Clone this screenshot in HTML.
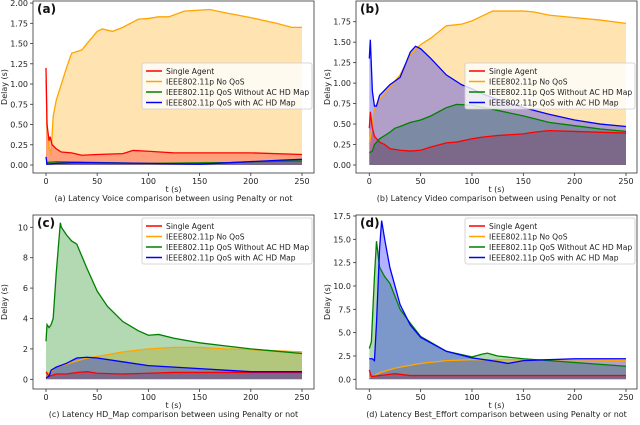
<!DOCTYPE html>
<html><head><meta charset="utf-8"><style>
body{margin:0;background:#fff;width:640px;height:420px;overflow:hidden}
svg{font-family:"DejaVu Sans","Liberation Sans",sans-serif}
</style></head><body>
<svg id="chart" width="640" height="420" xmlns="http://www.w3.org/2000/svg"></svg>
<script>
// Panel (a) voice
const aNoQosT=[0,1,3,5,7,10,15,20,25,30,35,40,50,55,65,75,90,100,110,120,135,160,175,200,225,240,250];
const aNoQosV=[1.05,0.5,0.2,0.15,0.6,0.8,1.0,1.2,1.38,1.4,1.42,1.5,1.65,1.68,1.65,1.7,1.8,1.81,1.83,1.83,1.9,1.92,1.88,1.82,1.75,1.7,1.7];
const aSingleT=[0,1,3,4,6,10,15,25,35,50,75,85,100,125,150,200,250];
const aSingleV=[1.2,0.5,0.3,0.35,0.25,0.2,0.16,0.15,0.12,0.13,0.14,0.18,0.17,0.15,0.15,0.15,0.13];
const aNoAcT=[0,10,50,100,180,200,240,250];
const aNoAcV=[0.03,0.04,0.03,0.02,0.03,0.04,0.05,0.05];
const aAcT=[0,1,10,30,100,150,230,250];
const aAcV=[0.1,0.01,0.02,0.03,0.02,0.01,0.06,0.07];
// Panel (b) video
const bNoQosT=[0,3,5,10,20,30,40,50,60,75,90,100,110,120,135,150,160,175,200,225,250];
const bNoQosV=[0.25,0.5,0.7,0.8,0.95,1.1,1.35,1.47,1.55,1.7,1.72,1.76,1.82,1.88,1.88,1.88,1.87,1.83,1.8,1.77,1.73];
const bSingleT=[0,1,3,5,10,15,20,30,40,50,60,75,85,100,110,125,150,160,175,200,250];
const bSingleV=[0.45,0.65,0.45,0.35,0.28,0.25,0.2,0.18,0.17,0.18,0.22,0.27,0.28,0.32,0.34,0.36,0.38,0.4,0.42,0.41,0.39];
const bNoAcT=[0,3,5,10,20,25,30,40,50,60,75,85,100,120,150,175,200,225,250];
const bNoAcV=[0.15,0.17,0.25,0.32,0.4,0.45,0.47,0.52,0.55,0.6,0.7,0.74,0.73,0.68,0.6,0.52,0.48,0.44,0.41];
const bAcT=[0,1,3,5,7,10,20,30,40,45,50,60,75,90,100,110,125,150,175,200,225,250];
const bAcV=[1.3,1.53,0.9,0.72,0.72,0.85,0.98,1.07,1.38,1.45,1.42,1.3,1.1,0.98,0.93,0.87,0.8,0.7,0.62,0.55,0.5,0.47];
// Panel (c) HD map
const cNoQosT=[0,3,10,20,30,40,50,75,100,125,150,175,200,250];
const cNoQosV=[0.5,0.4,0.8,1.0,1.2,1.4,1.5,1.8,2.0,2.1,2.1,2.0,1.95,1.8];
const cSingleT=[0,3,10,20,30,40,50,75,100,125,150,200,250];
const cSingleV=[0.5,0.2,0.35,0.35,0.45,0.5,0.4,0.35,0.4,0.45,0.45,0.45,0.45];
const cNoAcT=[0,1,3,5,7,10,14,15,20,25,30,40,50,60,75,90,100,110,125,150,175,200,225,250];
const cNoAcV=[2.5,3.6,3.4,3.6,4.0,7.0,10.3,10.0,9.5,9.1,8.9,7.3,5.8,4.8,3.8,3.2,2.9,2.95,2.7,2.4,2.2,2.0,1.85,1.7];
const cAcT=[0,3,5,10,20,30,40,50,75,100,125,150,175,200,250];
const cAcV=[0.1,0.2,0.6,0.8,1.05,1.4,1.45,1.4,1.15,0.9,0.8,0.7,0.6,0.5,0.5];
// Panel (d) best effort
const dNoQosT=[0,5,10,25,50,75,100,150,200,250];
const dNoQosV=[0.2,0.4,0.7,1.2,1.7,2.0,2.1,2.1,2.1,2.0];
const dSingleT=[0,2,10,25,40,100,250];
const dSingleV=[1.0,0.3,0.4,0.6,0.4,0.4,0.4];
const dNoAcT=[0,2,5,7,10,15,20,30,40,50,75,100,110,115,125,150,175,200,225,250];
const dNoAcV=[3.3,4,11,14.8,12,11,10.3,7.5,6,4.6,3,2.4,2.7,2.8,2.5,2.2,2.0,1.8,1.6,1.4];
const dAcT=[0,3,5,7,10,12,15,20,30,40,50,75,100,125,135,150,175,200,250];
const dAcV=[2.2,2.2,2.0,6,14,17,15,12,8,5.8,4.5,3,2.3,1.9,1.7,2.0,2.1,2.2,2.2];

const xTicks=[0,50,100,150,200,250];
const aYTicks=["0.00","0.25","0.50","0.75","1.00","1.25","1.50","1.75","2.00"];
const bYTicks=["0.00","0.25","0.50","0.75","1.00","1.25","1.50","1.75"];
const cYTicks=["0","2","4","6","8","10"];
const dYTicks=["0.0","2.5","5.0","7.5","10.0","12.5","15.0","17.5"];
const legendLabels=["Single Agent","IEEE802.11p No QoS","IEEE802.11p QoS Without AC HD Map","IEEE802.11p QoS with AC HD Map"];
const colors=["#ff0000","#ffa500","#008000","#0000ff"];

const svg=document.getElementById('chart');
const NS="http://www.w3.org/2000/svg";
function mk(tag,attrs,parent){const e=document.createElementNS(NS,tag);for(const k in attrs)e.setAttribute(k,attrs[k]);parent.appendChild(e);return e;}

function panel(p){
  const g=mk('g',{},svg);
  
  
  const sx=t=>p.x0+(t/250)*(p.x250-p.x0);
  const sy=v=>p.y0-(v/p.yref)*(p.y0-p.yrefPx);
  const order=[[p.s[1],1],[p.s[0],0],[p.s[2],2],[p.s[3],3]];
  order.forEach(([s,i])=>{
    let d=`M${sx(s[0][0])},${sy(0)}`;
    s[0].forEach((t,j)=>{d+=`L${sx(t)},${sy(s[1][j])}`;});
    d+=`L${sx(s[0][s[0].length-1])},${sy(0)}Z`;
    const f=mk('path',{d:d,fill:colors[i],'fill-opacity':0.3,stroke:'none'},g);
    
    
  });
  order.forEach(([s,i])=>{
    const pts=s[0].map((t,j)=>sx(t)+','+sy(s[1][j])).join(' ');
    const l=mk('polyline',{points:pts,fill:'none',stroke:colors[i],'stroke-width':1.3},g);
    
    
  });
  const fr=mk('rect',{x:p.L,y:p.T,width:p.R-p.L,height:p.B-p.T,fill:'none',stroke:'#333','stroke-width':0.8},g);
  
  
  xTicks.forEach(t=>{
    mk('line',{x1:sx(t),x2:sx(t),y1:p.B,y2:p.B+3,stroke:'#333','stroke-width':0.8},g);
    const tx=mk('text',{x:sx(t),y:p.B+11,'font-size':8,'text-anchor':'middle',fill:'#222'},g);
    tx.textContent=t;
    
    
  });
  p.yt.forEach(lbl=>{
    const y=sy(parseFloat(lbl));
    mk('line',{x1:p.L-3,x2:p.L,y1:y,y2:y,stroke:'#333','stroke-width':0.8},g);
    const tx=mk('text',{x:p.L-5,y:y+3,'font-size':8,'text-anchor':'end',fill:'#222'},g);
    tx.textContent=lbl;
    
    
  });
  const xl=mk('text',{x:(p.L+p.R)/2,y:p.B+19,'font-size':8,'text-anchor':'middle',fill:'#222'},g);
  xl.textContent='t (s)';
  
  
  const yl=mk('text',{x:0,y:0,'font-size':8,'text-anchor':'middle',fill:'#222',transform:`translate(${p.L-26},${(p.T+p.B)/2}) rotate(-90)`},g);
  yl.textContent='Delay (s)';
  
  
  const cap=mk('text',{x:(p.L+p.R)/2,y:p.B+28,'font-size':8,'text-anchor':'middle',fill:'#222'},g);
  cap.textContent=p.cap;
  
  
  const pl=mk('text',{x:p.L+4,y:p.T+12,'font-size':12,'font-weight':'bold',fill:'#111'},g);
  pl.textContent='('+p.id+')';
  
  
  const lg=mk('g',{},g);
  
  
  mk('rect',{x:p.lx,y:p.ly,width:p.R-2-p.lx,height:46,fill:'#fff','fill-opacity':0.8,stroke:'#ccc','stroke-width':0.8,rx:2},lg);
  legendLabels.forEach((lbl,i)=>{
    const y=p.ly+8+i*10.5;
    mk('line',{x1:p.lx+4,x2:p.lx+20,y1:y,y2:y,stroke:colors[i],'stroke-width':1.5},lg);
    const tx=mk('text',{x:p.lx+24,y:y+3,'font-size':7.6,fill:'#222'},lg);
    tx.textContent=lbl;
    
    
  });
}

panel({id:'a',L:33,R:314,T:1,B:173,x0:46,x250:302,y0:165,yref:1.75,yrefPx:23.3,yt:aYTicks,lx:142,ly:63,
  cap:'(a) Latency Voice comparison between using Penalty or not',
  s:[[aSingleT,aSingleV],[aNoQosT,aNoQosV],[aNoAcT,aNoAcV],[aAcT,aAcV]]});
panel({id:'b',L:356,R:637,T:1,B:173,x0:369.3,x250:626,y0:165,yref:1.75,yrefPx:21.7,yt:bYTicks,lx:465,ly:63,
  cap:'(b) Latency Video comparison between using Penalty or not',
  s:[[bSingleT,bSingleV],[bNoQosT,bNoQosV],[bNoAcT,bNoAcV],[bAcT,bAcV]]});
panel({id:'c',L:33,R:314,T:215,B:389,x0:46,x250:302,y0:379.3,yref:10,yrefPx:227.3,yt:cYTicks,lx:142,ly:218,
  cap:'(c) Latency HD_Map comparison between using Penalty or not',
  s:[[cSingleT,cSingleV],[cNoQosT,cNoQosV],[cNoAcT,cNoAcV],[cAcT,cAcV]]});
panel({id:'d',L:356,R:637,T:215,B:389,x0:369.3,x250:626,y0:379.3,yref:17.5,yrefPx:216,yt:dYTicks,lx:465,ly:218,
  cap:'(d) Latency Best_Effort comparison between using Penalty or not',
  s:[[dSingleT,dSingleV],[dNoQosT,dNoQosV],[dNoAcT,dNoAcV],[dAcT,dAcV]]});
</script>
</body></html>
